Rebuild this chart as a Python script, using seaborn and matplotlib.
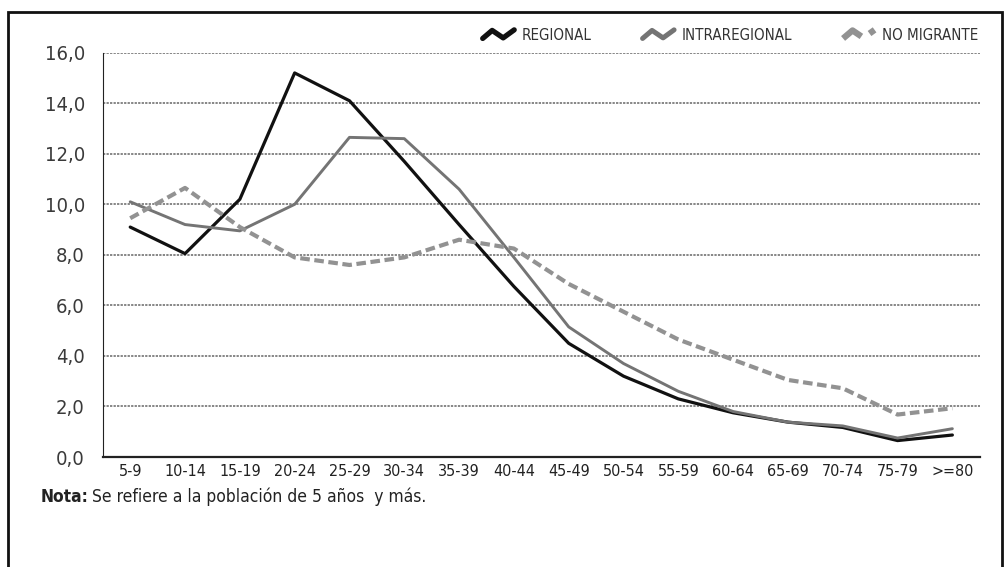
import numpy as np
import pandas as pd
import matplotlib
matplotlib.use("Agg")
import matplotlib.pyplot as plt
import matplotlib.patches as mpatches
from matplotlib.lines import Line2D
from matplotlib.legend_handler import HandlerBase
import seaborn as sns

grupos = ['5-9', '10-14', '15-19', '20-24', '25-29', '30-34', '35-39', '40-44',
          '45-49', '50-54', '55-59', '60-64', '65-69', '70-74', '75-79', '>=80']
regional = [9.1, 8.05, 10.2, 15.2, 14.1, 11.7, 9.2, 6.75, 4.5, 3.2, 2.3, 1.75, 1.38, 1.17, 0.65, 0.87]
intraregional = [10.1, 9.2, 8.95, 10.0, 12.65, 12.6, 10.6, 7.9, 5.15, 3.7, 2.6, 1.8, 1.38, 1.23, 0.75, 1.12]
no_migrante = [9.45, 10.65, 9.1, 7.9, 7.6, 7.9, 8.6, 8.25, 6.85, 5.75, 4.65, 3.85, 3.05, 2.72, 1.68, 1.93]

series = {'REGIONAL': regional, 'INTRAREGIONAL': intraregional, 'NO MIGRANTE': no_migrante}
colores = {'REGIONAL': '#111111', 'INTRAREGIONAL': '#747474', 'NO MIGRANTE': '#929292'}
grosor = {'REGIONAL': 2.3, 'INTRAREGIONAL': 2.1, 'NO MIGRANTE': 3.0}
guion = (0, (2.3, 1.1))

sns.set_style('white')
plt.rcParams['font.family'] = ['DejaVu Sans']
plt.rcParams['font.stretch'] = 'condensed'

fig = plt.figure(figsize=(10.08, 5.67), dpi=100)
ax = fig.add_axes([0.102, 0.194, 0.870, 0.713])

pos = np.arange(len(grupos))
for nombre, valores in series.items():
    df = pd.DataFrame({'x': pos, 'y': valores})
    ls = guion if nombre == 'NO MIGRANTE' else '-'
    sns.lineplot(data=df, x='x', y='y', ax=ax, color=colores[nombre],
                 linewidth=grosor[nombre], linestyle=ls, zorder=3)

ax.set_xlim(-0.5, len(grupos) - 0.5)
ax.set_ylim(0, 16)
ax.set_yticks(np.arange(0, 17, 2))
ax.set_yticklabels([f'{v:.1f}'.replace('.', ',') for v in np.arange(0, 17, 2)],
                   fontsize=14.5, color='#3a3a3a', fontstretch='condensed')
ax.yaxis.grid(True, color='#666666', linestyle=(0, (1.5, 0.8)), linewidth=1.1)
ax.set_axisbelow(True)

ax.set_xticks(np.arange(-0.5, len(grupos), 1))
ax.set_xticklabels([])
ax.set_xticks(pos, minor=True)
ax.set_xticklabels(grupos, minor=True, fontsize=11.5, color='#222222', fontstretch='condensed')
ax.tick_params(axis='x', which='minor', length=0, pad=5)
ax.tick_params(axis='x', which='major', length=5, direction='inout', width=1, color='#222222')
ax.tick_params(axis='y', length=8, direction='inout', width=1, color='#222222', pad=9)

ax.set_xlabel('')
ax.set_ylabel('')
for s in ['top', 'right']:
    ax.spines[s].set_visible(False)
ax.spines['left'].set_color('#222222')
ax.spines['bottom'].set_color('#222222')
ax.spines['bottom'].set_linewidth(1.6)


class ZigZag(HandlerBase):
    def create_artists(self, legend, orig, xd, yd, width, height, fontsize, trans):
        xs = np.array([0.0, 0.3, 0.65, 1.0]) * width - xd
        ys = np.array([0.15, 0.85, 0.2, 0.9]) * height - yd
        ln = Line2D(xs, ys, color=orig.get_color(), linewidth=orig.get_linewidth(),
                    linestyle=orig.get_linestyle(), solid_joinstyle='round',
                    solid_capstyle='round', transform=trans)
        return [ln]


handles = [Line2D([], [], color=colores[n], linewidth=grosor[n] + 1.5,
                  linestyle=(0, (0.9, 0.4)) if n == 'NO MIGRANTE' else '-') for n in series]
leg = fig.legend(handles, list(series.keys()), loc='center right', bbox_to_anchor=(0.978, 0.938),
                 ncol=3, frameon=False, handler_map={Line2D: ZigZag()}, handlelength=2.1,
                 handleheight=0.8, columnspacing=3.4, handletextpad=0.5, borderpad=0,
                 prop={'family': 'DejaVu Sans', 'stretch': 'condensed', 'size': 10.8})
for t in leg.get_texts():
    t.set_color('#333333')

nota = fig.text(0.04, 0.115, 'Nota:', fontsize=12.5, fontweight='bold', color='#222222')
fig.canvas.draw()
bb = nota.get_window_extent().transformed(fig.transFigure.inverted())
fig.text(bb.x1 + 0.004, 0.115, 'Se refiere a la población de 5 años  y más.', fontsize=12.5, color='#222222')

fig.add_artist(mpatches.Rectangle((0.008, -0.05), 0.986, 1.028, transform=fig.transFigure,
                                  fill=False, edgecolor='#111111', linewidth=2))

fig.savefig('out.png', dpi=100)
